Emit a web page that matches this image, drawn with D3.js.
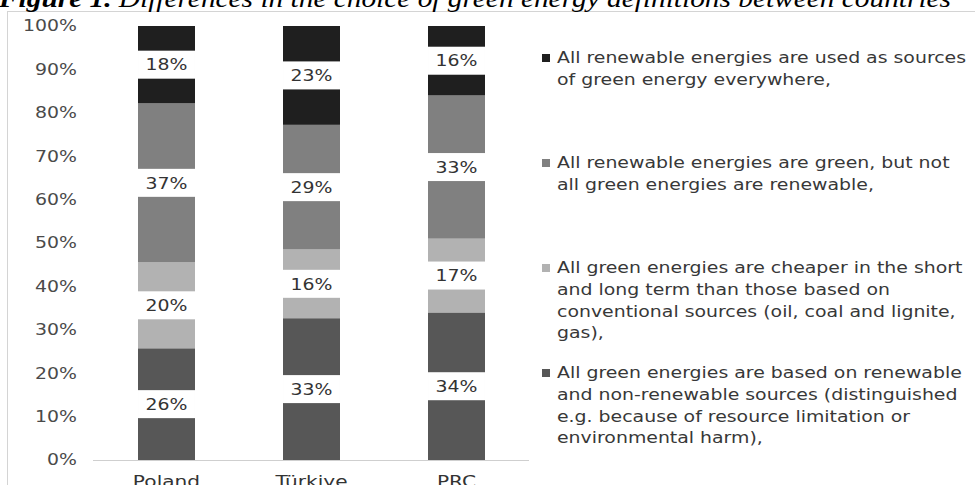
<!DOCTYPE html>
<html><head><meta charset="utf-8">
<script src="https://cdn.jsdelivr.net/npm/d3@7"></script>
<style>body{margin:0;background:#fff}svg{display:block}</style>
</head><body>
<svg id="c" width="975" height="485"></svg>
<script>
const countries = ["Poland", "Türkiye", "PRC"];
const seriesKeys = ["based", "cheaper", "green", "everywhere"]; // bottom to top
const based = [26, 33, 34];
const cheaper = [20, 16, 17];
const green = [37, 29, 33];
const everywhere = [18, 23, 16];
const yTicks = [0, 0.1, 0.2, 0.3, 0.4, 0.5, 0.6, 0.7, 0.8, 0.9, 1];
const legendLines = [
  ["All renewable energies are used as sources", "of green energy everywhere,"],
  ["All renewable energies are green, but not", "all green energies are renewable,"],
  ["All green energies are cheaper in the short", "and long term than those based on", "conventional sources (oil, coal and lignite,", "gas),"],
  ["All green energies are based on renewable", "and non-renewable sources (distinguished", "e.g. because of resource limitation or", "environmental harm),"]
];
const legendKeys = ["everywhere", "green", "cheaper", "based"];
const colors = {everywhere: "#1f1f1f", green: "#808080", cheaper: "#b2b2b2", based: "#575757"};
const stretch = "scale(1.26,1)";

const valuesBySeries = {based, cheaper, green, everywhere};
const rows = countries.map((c, i) => {
  const r = {country: c};
  seriesKeys.forEach(k => r[k] = valuesBySeries[k][i]);
  return r;
});

const svg = d3.select("#c");
const x = d3.scaleBand().domain(countries).range([94, 529]).paddingInner(0.607).paddingOuter(0.3035);
const y = d3.scaleLinear().domain([0, 1]).range([460, 26]);
const stack = d3.stack().keys(seriesKeys).offset(d3.stackOffsetExpand);
const layers = stack(rows);

// frame
svg.append("rect").attr("x", 7.5).attr("y", 11.5).attr("width", 975).attr("height", 480)
  .attr("fill", "none").attr("stroke", "#d4d4d4");

// title
const title = svg.append("text").attr("x", -1).attr("y", 7)
  .attr("font-family", "Liberation Serif").attr("font-style", "italic").attr("font-size", 26).attr("fill", "#000")
  .attr("textLength", 952).attr("lengthAdjust", "spacingAndGlyphs");
title.append("tspan").attr("font-weight", "bold").text("Figure 1.");
title.append("tspan").text(" Differences in the choice of green energy definitions between countries");

// y axis labels
const yAxis = d3.axisLeft(y).tickValues(yTicks).tickFormat(d3.format(".0%")).tickSize(0).tickPadding(0);
const ya = svg.append("g").attr("transform", "translate(77,0)").call(yAxis);
ya.select(".domain").remove();
ya.selectAll("text").attr("font-family", "DejaVu Sans").attr("font-size", 15).attr("fill", "#4a4a4a").attr("transform", stretch);

// baseline
svg.append("line").attr("x1", 93).attr("x2", 529).attr("y1", 460.5).attr("y2", 460.5).attr("stroke", "#cfcfcf");

// bars
layers.forEach(layer => {
  const g = svg.append("g");
  g.selectAll("rect").data(layer).join("rect")
    .attr("x", d => x(d.data.country))
    .attr("width", x.bandwidth())
    .attr("y", d => y(d[1]))
    .attr("height", d => y(d[0]) - y(d[1]))
    .attr("fill", colors[layer.key]);
});
// labels
layers.forEach(layer => {
  const g = svg.append("g");
  const lab = g.selectAll("g").data(layer).join("g")
    .attr("transform", d => `translate(${x(d.data.country) + x.bandwidth() / 2},${(y(d[0]) + y(d[1])) / 2})`);
  lab.append("rect").attr("x", -x.bandwidth() / 2).attr("y", -14).attr("width", x.bandwidth()).attr("height", 28).attr("fill", "#fff");
  lab.append("text").attr("text-anchor", "middle").attr("dy", "0.36em")
    .attr("font-family", "DejaVu Sans").attr("font-size", 16).attr("fill", "#333").attr("transform", "scale(1.18,1)")
    .text(d => d.data[layer.key] + "%");
});

// x axis labels
const xAxis = d3.axisBottom(x).tickSize(0).tickPadding(0);
const xa = svg.append("g").attr("transform", "translate(0,476)").call(xAxis);
xa.select(".domain").remove();
xa.selectAll("text").attr("font-family", "DejaVu Sans").attr("font-size", 16).attr("fill", "#333").attr("dy", "0.71em").attr("transform", stretch);

// legend
const lineH = 21.7;
const starts = [58, 163, 268, 373];
legendKeys.forEach((k, i) => {
  const g = svg.append("g").attr("transform", `translate(0,${starts[i]})`);
  g.append("rect").attr("x", 542).attr("y", -4).attr("width", 8).attr("height", 8).attr("fill", colors[k]);
  const t = g.append("text").attr("font-family", "DejaVu Sans").attr("font-size", 15).attr("fill", "#383838")
    .attr("transform", `translate(557,0) ${stretch}`);
  legendLines[i].forEach((ln, j) => {
    t.append("tspan").attr("x", 0).attr("y", j * lineH).attr("dy", "0.36em").text(ln);
  });
});
</script>
</body></html>
